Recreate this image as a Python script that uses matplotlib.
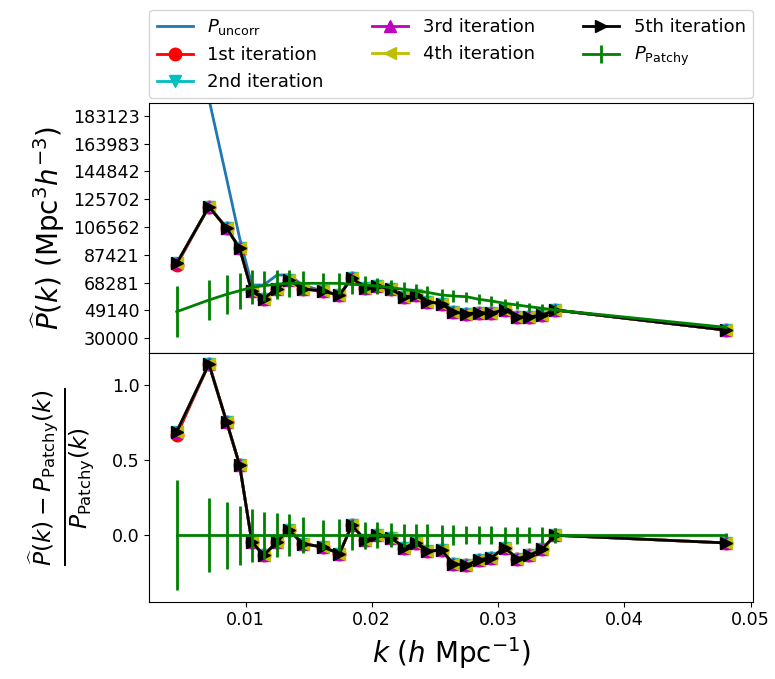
import numpy as np
import matplotlib
matplotlib.use("Agg")
import matplotlib.pyplot as plt

# k bins (h/Mpc)
k = [0.00455, 0.00710, 0.00850, 0.00953, 0.01050, 0.01144, 0.01250, 0.01342,
     0.01452, 0.01610, 0.01744, 0.01842, 0.01947, 0.02044, 0.02150, 0.02257,
     0.02347, 0.02439, 0.02553, 0.02644, 0.02750, 0.02849, 0.02947, 0.03052,
     0.03152, 0.03249, 0.03350, 0.03452, 0.04802]

# mean Patchy power spectrum and relative error
p_patchy = [48300, 56350, 60270, 62740, 65080, 66180, 67150, 67830,
            67830, 67830, 67830, 67150, 66670, 65980, 64810, 63710,
            62740, 61640, 59790, 59100, 58620, 56830, 55660, 54080,
            52910, 51740, 50640, 49470, 37570]
rel_err_patchy = [0.367, 0.245, 0.222, 0.197, 0.178, 0.155, 0.146, 0.139,
                  0.120, 0.100, 0.105, 0.100, 0.090, 0.087, 0.080, 0.078,
                  0.075, 0.075, 0.069, 0.066, 0.061, 0.060, 0.060, 0.056,
                  0.056, 0.053, 0.052, 0.050, 0.012]

# relative deviation (P - P_patchy)/P_patchy for each iteration
delta_iter1 = [0.665, 1.140, 0.755, 0.467, -0.044, -0.133, -0.044, 0.038,
               -0.056, -0.078, -0.122, 0.067, -0.033, 0.000, -0.016, -0.082,
               -0.051, -0.104, -0.100, -0.189, -0.200, -0.162, -0.149, -0.082,
               -0.156, -0.133, -0.092, 0.000, -0.051]
delta_iter2 = [0.689, 1.140, 0.755, 0.467, -0.044, -0.133, -0.044, 0.038,
               -0.056, -0.078, -0.122, 0.067, -0.033, 0.000, -0.016, -0.082,
               -0.051, -0.104, -0.100, -0.189, -0.200, -0.162, -0.149, -0.082,
               -0.156, -0.133, -0.092, 0.000, -0.051]
delta_iter3 = list(delta_iter2)
delta_iter4 = list(delta_iter2)
delta_iter5 = list(delta_iter2)

# uncorrected power spectrum (first values run off the top of the panel)
p_uncorr = [300000, 194600, 139900, 99000, 66670, 66670, 73540, 73540,
            66670, 62540, 59560, 72400, 64470, 65980, 63770, 58490,
            59540, 55230, 53810, 47930, 46900, 47620, 47370, 49650,
            44660, 44860, 45980, 49470, 35650]

ytick_top = [30000, 49140, 68281, 87421, 106562, 125702, 144842, 163983, 183123]
ytick_bottom = [0.0, 0.5, 1.0]
xtick_vals = [0.01, 0.02, 0.03, 0.04, 0.05]

iterations = [
    ("1st iteration", delta_iter1, "r", "o"),
    ("2nd iteration", delta_iter2, "c", "v"),
    ("3rd iteration", delta_iter3, "m", "^"),
    ("4th iteration", delta_iter4, "y", "<"),
    ("5th iteration", delta_iter5, "k", ">"),
]

k = np.array(k)
p_patchy = np.array(p_patchy)
sig_patchy = p_patchy * np.array(rel_err_patchy)

fig = plt.figure(figsize=(7.75, 6.79), dpi=100)
W, H = 775.0, 679.0
ax1 = fig.add_axes([149.3 / W, 1 - 352.7 / H, 603.7 / W, (352.7 - 103.3) / H])
ax2 = fig.add_axes([149.3 / W, 1 - 601.7 / H, 603.7 / W, (601.7 - 352.7) / H], sharex=ax1)

ax1.plot(k, p_uncorr, color="tab:blue", lw=2, label=r"$P_{\mathrm{uncorr}}$")
for name, delta, col, mk in iterations:
    p_it = p_patchy * (1 + np.array(delta))
    ax1.plot(k, p_it, color=col, marker=mk, ms=9, lw=2, label=name)
    ax2.plot(k, delta, color=col, marker=mk, ms=9, lw=2)
ax1.errorbar(k, p_patchy, yerr=sig_patchy, color="g", lw=2, elinewidth=2,
             label=r"$P_{\mathrm{Patchy}}$")
ax2.errorbar(k, np.zeros_like(k), yerr=np.array(rel_err_patchy), color="g",
             lw=2, elinewidth=2)

ax1.set_ylim(20100, 191650)
ax1.set_yticks(ytick_top)
ax1.set_yticklabels([str(v) for v in ytick_top])
plt.setp(ax1.get_xticklabels(), visible=False)

ax2.set_xticks(xtick_vals)
ax2.set_yticks(ytick_bottom)
ax2.set_yticklabels(["%.1f" % v for v in ytick_bottom])

for ax in (ax1, ax2):
    ax.tick_params(labelsize=12.6)

ax1.set_ylabel(r"$\widehat{P}(k)$ $(\mathrm{Mpc}^3 h^{-3})$", fontsize=20)
ax2.set_ylabel(r"$\frac{\widehat{P}(k)-P_{\mathrm{Patchy}}(k)}{P_{\mathrm{Patchy}}(k)}$",
               fontsize=24, labelpad=11)
ax2.set_xlabel(r"$k$ $(h$ $\mathrm{Mpc}^{-1})$", fontsize=20)

ax1.legend(bbox_to_anchor=(0, 1.02, 1, 0.2), loc="lower left", mode="expand",
           ncol=3, fontsize=13, borderaxespad=0)

fig.savefig("out.png", dpi=100)
